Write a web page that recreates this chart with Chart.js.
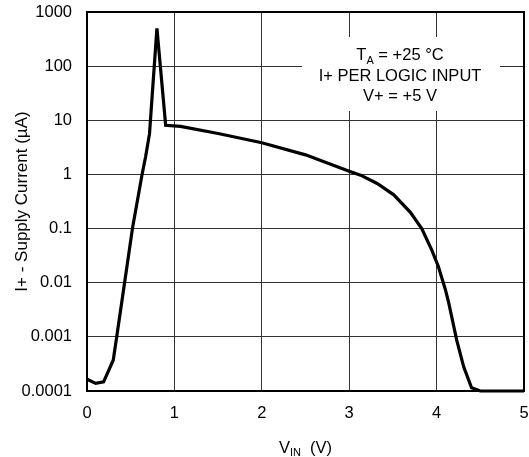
<!DOCTYPE html>
<html>
<head>
<meta charset="utf-8">
<script src="https://cdn.jsdelivr.net/npm/chart.js@4.4.1/dist/chart.umd.min.js"></script>
<style>
    html, body { margin: 0; padding: 0; background: #fff; }
    #wrap { width: 529px; height: 457px; }
</style>
</head>
<body>
<div id="wrap"><canvas id="myChart"></canvas></div>
<script>
// input voltage (V)
const vin = [0, 0.1, 0.19, 0.3, 0.34, 0.43, 0.52, 0.63, 0.67, 0.715, 0.80, 0.9, 1.07, 1.5, 2.0, 2.5, 3.0,
    3.13, 3.32, 3.51, 3.70, 3.83, 3.945, 4.02, 4.10, 4.135, 4.23, 4.31, 4.40, 4.5, 5.0];
// supply current (uA)
const supplyCurrent = [0.000165, 0.000138, 0.000147, 0.00037, 0.001, 0.01, 0.1, 1, 2.1, 5.6, 500, 8.1, 7.7, 5.7, 3.85, 2.3, 1.15,
    0.97, 0.68, 0.42, 0.2, 0.1, 0.04, 0.02, 0.0075, 0.0045, 0.00087, 0.00028, 0.000115, 0.0001, 0.0001];

const yTicks = [0.0001, 0.001, 0.01, 0.1, 1, 10, 100, 1000];
const yTickLabels = ['0.0001', '0.001', '0.01', '0.1', '1', '10', '100', '1000'];
const xTicks = [0, 1, 2, 3, 4, 5];

const FONT = "Helvetica, 'Liberation Sans', Arial, sans-serif";

const extras = {
    id: 'extras',
    beforeDatasetsDraw(chart) {
        const c = chart.ctx;
        c.save();
        c.fillStyle = '#fff';
        c.fillRect(302, 37, 198, 74);
        c.restore();
    },
    afterDraw(chart) {
        const c = chart.ctx;
        const a = chart.chartArea;
        c.save();
        // frame
        c.strokeStyle = '#000';
        c.lineWidth = 2;
        c.strokeRect(a.left, a.top, a.right - a.left, a.bottom - a.top);

        c.fillStyle = '#000';
        c.textBaseline = 'alphabetic';
        c.textAlign = 'left';
        const big = '16.5px ' + FONT;
        const small = '11px ' + FONT;

        // x axis title: V_IN (V)
        const cx = (a.left + a.right) / 2;
        c.font = big;
        const wV = c.measureText('V').width;
        const wTail = c.measureText('  (V)').width;
        c.font = small;
        const wIN = c.measureText('IN').width;
        let x = cx - (wV + wIN + wTail) / 2;
        c.font = big;
        c.fillText('V', x, 453);
        c.font = small;
        c.fillText('IN', x + wV, 456);
        c.font = big;
        c.fillText('  (V)', x + wV + wIN, 453);

        // note
        const nx = 400;
        c.font = big;
        const wT = c.measureText('T').width;
        const wRest = c.measureText(' = +25 °C').width;
        c.font = small;
        const wA = c.measureText('A').width;
        x = nx - (wT + wA + wRest) / 2;
        c.font = big;
        c.fillText('T', x, 60);
        c.font = small;
        c.fillText('A', x + wT, 63.5);
        c.font = big;
        c.fillText(' = +25 °C', x + wT + wA, 60);
        c.textAlign = 'center';
        c.fillText('I+ PER LOGIC INPUT', nx, 80.5);
        c.fillText('V+ = +5 V', nx, 101);
        c.restore();
    }
};

document.addEventListener('DOMContentLoaded', () => {
    const ctx = document.getElementById('myChart').getContext('2d');
    new Chart(ctx, {
        type: 'line',
        data: {
            datasets: [{
                label: 'I+',
                data: vin.map((v, i) => ({ x: v, y: supplyCurrent[i] })),
                borderColor: '#000',
                backgroundColor: '#000',
                borderWidth: 3.2,
                pointRadius: 0,
                tension: 0,
                clip: 6
            }]
        },
        options: {
            responsive: true,
            maintainAspectRatio: false,
            animation: false,
            plugins: {
                legend: { display: false },
                tooltip: { enabled: false }
            },
            layout: {
                padding: 0
            },
            scales: {
                x: {
                    type: 'linear',
                    min: 0,
                    max: 5,
                    afterBuildTicks: (scale) => {
                        scale.ticks = xTicks.map(v => ({ value: v }));
                    },
                    afterFit: (scale) => {
                        scale.height = 66;
                        scale.paddingLeft = 0;
                        scale.paddingRight = 5;
                        scale.paddingTop = 0;
                        scale.paddingBottom = 0;
                    },
                    ticks: {
                        color: '#000',
                        padding: 13,
                        font: { family: FONT, size: 16.5 }
                    },
                    grid: {
                        color: '#333',
                        lineWidth: 1,
                        drawTicks: false
                    },
                    border: { display: false }
                },
                y: {
                    type: 'logarithmic',
                    min: 0.0001,
                    max: 1000,
                    afterBuildTicks: (scale) => {
                        scale.ticks = yTicks.map(v => ({ value: v }));
                    },
                    afterFit: (scale) => {
                        scale.width = 87;
                        scale.paddingTop = 12;
                        scale.paddingBottom = 0;
                        scale.paddingLeft = 0;
                        scale.paddingRight = 0;
                    },
                    ticks: {
                        color: '#000',
                        padding: 15,
                        font: { family: FONT, size: 16.5 },
                        callback: function (value) {
                            const i = yTicks.indexOf(value);
                            return i >= 0 ? yTickLabels[i] : '';
                        }
                    },
                    grid: {
                        color: '#333',
                        lineWidth: 1,
                        drawTicks: false
                    },
                    border: { display: false },
                    title: {
                        display: true,
                        text: 'I+ - Supply Current (µA)',
                        color: '#000',
                        padding: { top: 12, bottom: 0 },
                        font: { family: FONT, size: 17 }
                    }
                }
            }
        },
        plugins: [extras]
    });
});
</script>
</body>
</html>
